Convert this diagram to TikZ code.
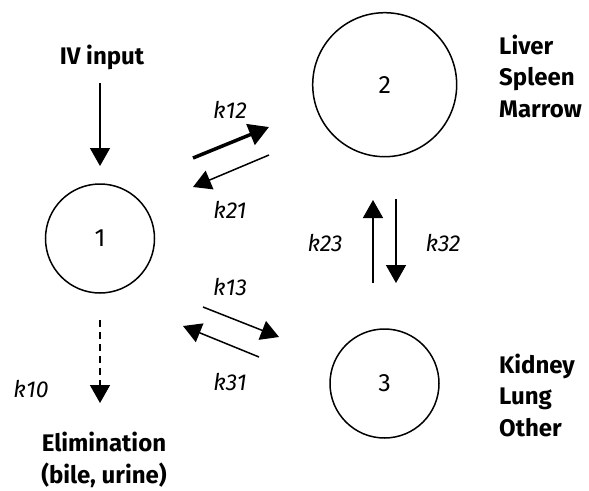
\documentclass[tikz,border=0pt]{standalone}
\usepackage{fontspec}
\setmainfont{Fira Sans}
\usetikzlibrary{arrows.meta}
\begin{document}
\begin{tikzpicture}[x=1pt,y=-1pt,
  comp/.style={draw,circle,line width=1.5pt,inner sep=0pt,font=\fontsize{25}{28}\selectfont},
  lab/.style={font=\bfseries\fontsize{24}{31.5}\selectfont,align=left,inner sep=0pt},
  rate/.style={font=\itshape\fontsize{23}{26}\selectfont,inner sep=0pt},
  arr/.style={line width=1.5pt,-{Triangle[width=20pt,length=18pt]}},
  thickarr/.style={line width=3.5pt,-{Triangle[width=22pt,length=20pt]}},
]
\useasboundingbox (0,0) rectangle (589,490);
% compartments
\node[comp,minimum size=109pt] (c1) at (100,238.5) {1};
\node[comp,minimum size=144pt] (c2) at (384.7,84.7) {2};
\node[comp,minimum size=109pt] (c3) at (384.5,383.5) {3};
% labels
\node[lab] (iv) at (102,57) {IV input};
\node[lab,anchor=west] (liver) at (499,76) {Liver\\Spleen\\Marrow};
\node[lab,anchor=west] (kidney) at (499,395) {Kidney\\Lung\\Other};
\node[lab,align=center] (elim) at (104,460) {Elimination\\(bile, urine)};
\node[rate] (k12) at (230,110) {k12};
\node[rate] (k21) at (230,210) {k21};
\node[rate] (k13) at (230,287) {k13};
\node[rate] (k31) at (230,382) {k31};
\node[rate] (k10) at (31,389) {k10};
\node[rate] (k23) at (325,243) {k23};
\node[rate] (k32) at (443,243) {k32};
% arrow end points
\coordinate (ivA) at (100,83);   \coordinate (ivB) at (100,166);
\coordinate (a12) at (193,158);  \coordinate (b12) at (269,127);
\coordinate (a21) at (269,155);  \coordinate (b21) at (193,187);
\coordinate (a13) at (203,307);  \coordinate (b13) at (279,337);
\coordinate (a31) at (259,357);  \coordinate (b31) at (183,326);
\coordinate (a10) at (100,320);  \coordinate (b10) at (100,403);
\coordinate (a23) at (373,283);  \coordinate (b23) at (373,200);
\coordinate (a32) at (396,199);  \coordinate (b32) at (396,283);
% arrows
\draw[arr] (ivA) -- (ivB);
\draw[thickarr] (a12) -- (b12);
\draw[arr] (a21) -- (b21);
\draw[arr] (a13) -- (b13);
\draw[arr] (a31) -- (b31);
\draw[arr,dash pattern=on 7pt off 5pt] (a10) -- (b10);
\draw[arr] (a23) -- (b23);
\draw[arr] (a32) -- (b32);
\end{tikzpicture}
\end{document}
